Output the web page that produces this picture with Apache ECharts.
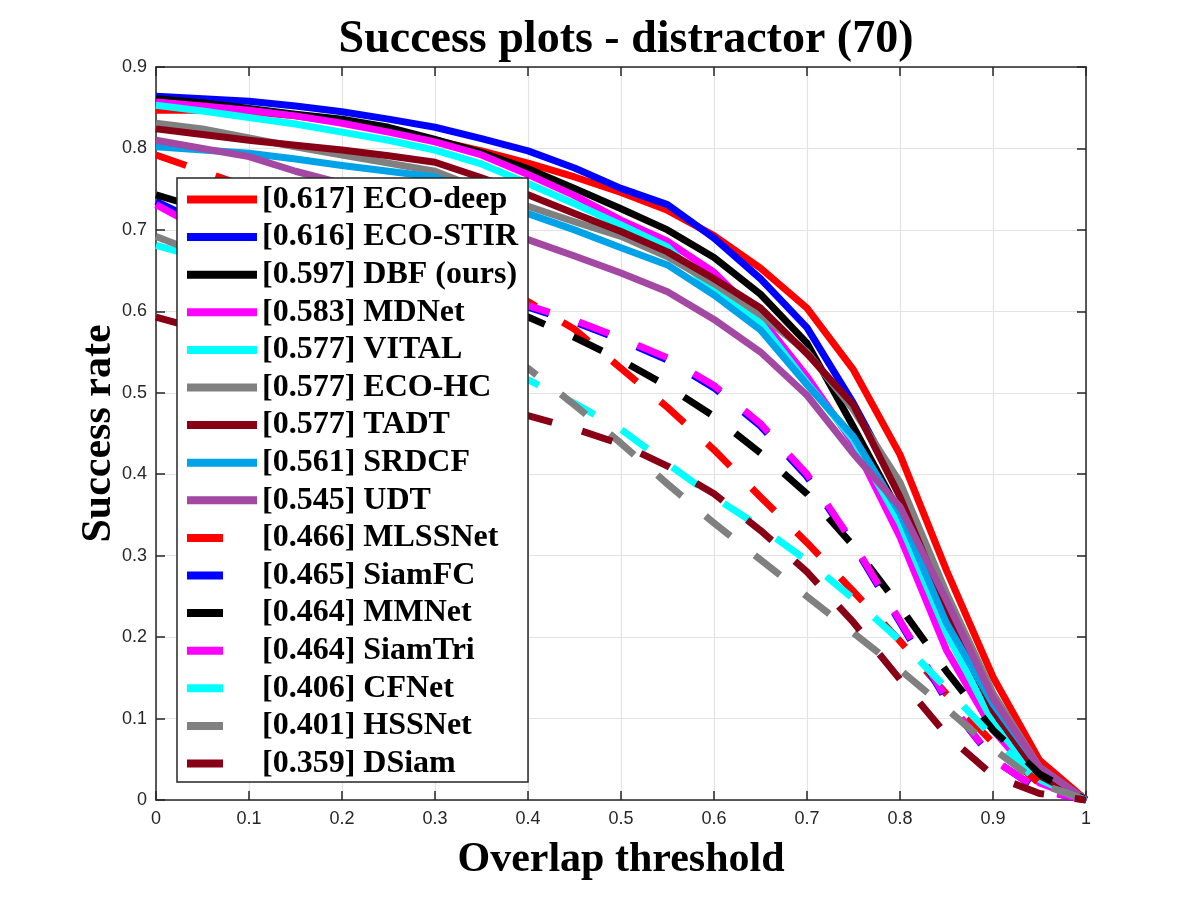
<!DOCTYPE html>
<html><head><meta charset="utf-8">
<script src="https://cdn.jsdelivr.net/npm/echarts@6/dist/echarts.min.js"></script>
<style>html,body{margin:0;padding:0;background:#fff}#c{width:1200px;height:900px}</style>
</head><body><div id="c"></div>
<script>
const thresholds = [0,0.05,0.1,0.15,0.2,0.25,0.3,0.35,0.4,0.45,0.5,0.55,0.6,0.65,0.7,0.75,0.8,0.85,0.9,0.95,1];
const xTicks = [0,0.1,0.2,0.3,0.4,0.5,0.6,0.7,0.8,0.9,1];
const yTicks = [0,0.1,0.2,0.3,0.4,0.5,0.6,0.7,0.8,0.9];

const trackerNames = ['ECO-deep','ECO-STIR','DBF (ours)','MDNet','VITAL','ECO-HC','TADT','SRDCF','UDT',
                      'MLSSNet','SiamFC','MMNet','SiamTri','CFNet','HSSNet','DSiam'];
const aucScores = ['0.617','0.616','0.597','0.583','0.577','0.577','0.577','0.561','0.545',
                   '0.466','0.465','0.464','0.464','0.406','0.401','0.359'];
const lineColors = ['#ff0000','#0000ff','#000000','#ff00ff','#00ffff','#808080','#880015','#00a2e8','#a349a4',
                    '#ff0000','#0000ff','#000000','#ff00ff','#00ffff','#808080','#880015'];
const lineKinds = ['solid','solid','solid','solid','solid','solid','solid','solid','solid',
                   'dashed','dashed','dashed','dashed','dashed','dashed','dashed'];

const ecoDeep = [0.847,0.847,0.845,0.840,0.832,0.822,0.810,0.797,0.782,0.765,0.746,0.724,0.693,0.653,0.604,0.528,0.424,0.282,0.151,0.049,0];
const ecoStir = [0.864,0.861,0.858,0.852,0.845,0.836,0.826,0.812,0.797,0.776,0.751,0.731,0.690,0.640,0.580,0.487,0.380,0.241,0.110,0.027,0];
const dbf     = [0.861,0.856,0.849,0.842,0.836,0.826,0.811,0.795,0.775,0.751,0.726,0.700,0.666,0.621,0.561,0.458,0.352,0.225,0.102,0.027,0];
const mdnet   = [0.857,0.852,0.847,0.840,0.831,0.820,0.808,0.792,0.768,0.742,0.712,0.686,0.648,0.592,0.520,0.438,0.323,0.184,0.086,0.021,0];
const vital   = [0.853,0.846,0.838,0.830,0.820,0.810,0.798,0.781,0.757,0.732,0.706,0.679,0.624,0.586,0.512,0.442,0.340,0.205,0.095,0.025,0];
const ecoHc   = [0.831,0.824,0.813,0.802,0.792,0.782,0.772,0.750,0.729,0.710,0.692,0.667,0.634,0.596,0.550,0.479,0.390,0.254,0.131,0.040,0];
const tadt    = [0.824,0.817,0.810,0.804,0.798,0.791,0.783,0.764,0.743,0.720,0.698,0.673,0.640,0.604,0.548,0.485,0.372,0.235,0.110,0.030,0];
const srdcf   = [0.802,0.798,0.794,0.787,0.779,0.772,0.765,0.745,0.720,0.700,0.678,0.657,0.620,0.577,0.510,0.446,0.352,0.217,0.118,0.040,0];
const udt     = [0.810,0.800,0.790,0.772,0.757,0.743,0.727,0.708,0.688,0.668,0.647,0.624,0.590,0.550,0.497,0.425,0.360,0.245,0.125,0.040,0];
const mlssnet = [0.792,0.772,0.752,0.732,0.712,0.692,0.670,0.643,0.612,0.578,0.530,0.482,0.430,0.372,0.316,0.256,0.195,0.130,0.070,0.020,0];
const siamfc  = [0.735,0.708,0.690,0.676,0.664,0.652,0.640,0.626,0.605,0.587,0.565,0.540,0.506,0.459,0.397,0.313,0.218,0.122,0.050,0.012,0];
const mmnet   = [0.743,0.726,0.708,0.690,0.671,0.652,0.633,0.614,0.593,0.568,0.540,0.508,0.471,0.426,0.376,0.312,0.237,0.158,0.086,0.032,0];
const siamtri = [0.731,0.700,0.682,0.668,0.656,0.645,0.634,0.621,0.607,0.589,0.567,0.543,0.509,0.462,0.400,0.315,0.220,0.124,0.050,0.012,0];
const cfnet   = [0.681,0.665,0.652,0.638,0.622,0.603,0.580,0.550,0.516,0.487,0.455,0.413,0.372,0.335,0.294,0.247,0.196,0.137,0.077,0.020,0];
const hssnet  = [0.692,0.670,0.657,0.646,0.635,0.622,0.600,0.570,0.530,0.485,0.438,0.388,0.340,0.295,0.250,0.205,0.160,0.112,0.063,0.020,0];
const dsiam   = [0.593,0.577,0.562,0.547,0.532,0.517,0.502,0.487,0.472,0.456,0.437,0.410,0.376,0.331,0.280,0.218,0.148,0.080,0.030,0.008,0];

const allValues = [ecoDeep,ecoStir,dbf,mdnet,vital,ecoHc,tadt,srdcf,udt,mlssnet,siamfc,mmnet,siamtri,cfnet,hssnet,dsiam];

const DASH = [32, 31];
const labelName = i => '[' + aucScores[i] + '] ' + trackerNames[i];

const series = allValues.map((vals, i) => ({
  name: labelName(i),
  type: 'line',
  xAxisIndex: 0, yAxisIndex: 0,
  symbol: 'none',
  silent: true,
  data: thresholds.map((t, k) => [t, vals[k]]),
  lineStyle: {
    color: lineColors[i], width: 7,
    type: lineKinds[i] === 'dashed' ? DASH : 'solid',
    cap: 'butt', join: 'round'
  },
  itemStyle: { color: lineColors[i] }
}));

const axisCol = '#262626';
const tickFont = { fontFamily: 'Liberation Sans', fontSize: 18, color: axisCol };
const nameFont = { fontFamily: 'Liberation Serif', fontWeight: 'bold', fontSize: 42, color: '#000' };

const option = {
  animation: false,
  backgroundColor: '#fff',
  title: {
    text: 'Success plots - distractor (70)',
    left: 621, top: 12, textAlign: 'center',
    textStyle: { fontFamily: 'Liberation Serif', fontWeight: 'bold', fontSize: 46, color: '#000' }
  },
  grid: { left: 156, right: 114, top: 67, bottom: 100 },
  legend: {
    orient: 'vertical', left: 177, top: 178,
    padding: [5, 10, 2, 6],
    itemWidth: 70, itemHeight: 14, itemGap: 4.6,
    backgroundColor: '#fff', borderColor: axisCol, borderWidth: 1.5,
    selectedMode: false,
    itemStyle: { opacity: 0, color: 'transparent', borderWidth: 0 },
    textStyle: { fontFamily: 'Liberation Serif', fontWeight: 'bold', fontSize: 32, color: '#000', lineHeight: 33 },
    data: trackerNames.map((n, i) => lineKinds[i] === 'dashed'
      ? { name: labelName(i), itemStyle: { opacity: 0 }, lineStyle: { type: [36, 200], width: 8 } }
      : { name: labelName(i), itemStyle: { opacity: 0 }, lineStyle: { width: 8 } })
  },
  xAxis: [{
    type: 'value', min: xTicks[0], max: xTicks[xTicks.length - 1], interval: 0.1,
    name: 'Overlap threshold', nameLocation: 'middle', nameGap: 39, nameTextStyle: nameFont,
    axisLine: { show: true, onZero: false, lineStyle: { color: axisCol, width: 1.5 } },
    axisTick: { show: true, inside: true, length: 9, lineStyle: { color: axisCol, width: 1.5 } },
    axisLabel: Object.assign({ margin: 10 }, tickFont),
    splitLine: { show: true, lineStyle: { color: '#e3e3e3', width: 1.2 } }
  }, {
    type: 'value', position: 'top', min: xTicks[0], max: xTicks[xTicks.length - 1], interval: 0.1,
    axisLine: { show: true, onZero: false, lineStyle: { color: axisCol, width: 1.5 } },
    axisTick: { show: true, inside: true, length: 9, lineStyle: { color: axisCol, width: 1.5 } },
    axisLabel: { show: false }, splitLine: { show: false }
  }],
  yAxis: [{
    type: 'value', min: yTicks[0], max: yTicks[yTicks.length - 1], interval: 0.1,
    name: 'Success rate', nameLocation: 'middle', nameGap: 36, nameMoveOverlap: false, nameTextStyle: nameFont,
    axisLine: { show: true, onZero: false, lineStyle: { color: axisCol, width: 1.5 } },
    axisTick: { show: true, inside: true, length: 9, lineStyle: { color: axisCol, width: 1.5 } },
    axisLabel: Object.assign({ margin: 9 }, tickFont),
    splitLine: { show: true, lineStyle: { color: '#e3e3e3', width: 1.2 } }
  }, {
    type: 'value', position: 'right', min: yTicks[0], max: yTicks[yTicks.length - 1], interval: 0.1,
    axisLine: { show: true, onZero: false, lineStyle: { color: axisCol, width: 1.5 } },
    axisTick: { show: true, inside: true, length: 9, lineStyle: { color: axisCol, width: 1.5 } },
    axisLabel: { show: false }, splitLine: { show: false }
  }],
  series: series
};

const chart = echarts.init(document.getElementById('c'), null, { renderer: 'canvas' });
chart.setOption(option);
</script>
</body></html>
